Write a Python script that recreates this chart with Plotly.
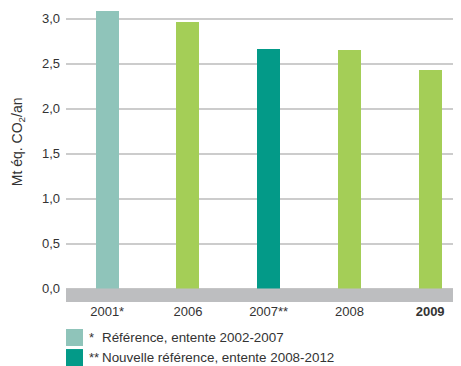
import plotly.graph_objects as go

categories = ["2001*", "2006", "2007**", "2008", "<b>2009</b>"]
values = [3.08, 2.96, 2.66, 2.65, 2.43]
bar_colors = ["#8FC4BA", "#A4CE57", "#039A88", "#A4CE57", "#A4CE57"]
y_ticks = [0, 0.5, 1.0, 1.5, 2.0, 2.5, 3.0]
legend_marks = ["*", "**"]
legend_labels = ["Référence, entente 2002-2007", "Nouvelle référence, entente 2008-2012"]
legend_colors = ["#8FC4BA", "#039A88"]
y_title = "Mt éq. CO<sub>2</sub>/an"

FONT = "Liberation Sans"
TXT = "#333333"

fig = go.Figure()
fig.add_trace(go.Bar(
    x=list(range(len(categories))), y=values,
    marker=dict(color=bar_colors, line=dict(width=0)),
    width=0.285, showlegend=False,
))

shapes = [dict(type="rect", xref="paper", yref="y", x0=0, x1=1, y0=-0.15, y1=0,
               fillcolor="#BDBEC0", line=dict(width=0), layer="above")]
annotations = [dict(text=y_title, xref="paper", yref="paper", x=-0.12, y=0.546,
                    textangle=-90, showarrow=False, xanchor="center", yanchor="middle",
                    font=dict(size=14, color=TXT, family=FONT))]

sq_y = [(-0.0918, -0.1497), (-0.160, -0.2177)]
for i, (mark, lab, col) in enumerate(zip(legend_marks, legend_labels, legend_colors)):
    y0, y1 = sq_y[i]
    shapes.append(dict(type="rect", xref="paper", yref="paper", x0=0, x1=0.0431,
                       y0=y1, y1=y0, fillcolor=col, line=dict(width=0)))
    yc = (y0 + y1) / 2
    annotations.append(dict(text=mark, xref="paper", yref="paper", x=0.0533, y=yc,
                            showarrow=False, xanchor="left", yanchor="middle",
                            font=dict(size=13, color=TXT, family=FONT)))
    annotations.append(dict(text=lab, xref="paper", yref="paper", x=0.0863, y=yc,
                            showarrow=False, xanchor="left", yanchor="middle",
                            font=dict(size=13.4, color=TXT, family=FONT)))

fig.update_layout(
    width=453, height=358,
    margin=dict(l=58, r=1, t=0, b=64),
    paper_bgcolor="white", plot_bgcolor="white",
    separators=", ",
    font=dict(family=FONT, size=13, color=TXT),
    bargap=0,
    shapes=shapes, annotations=annotations,
    xaxis=dict(range=[-0.51, 4.37], tickmode="array",
               tickvals=list(range(len(categories))), ticktext=categories,
               showgrid=False, zeroline=False, showline=False, ticks="",
               tickfont=dict(size=13, color=TXT, family=FONT)),
    yaxis=dict(range=[-0.15, 3.117], tickmode="array", tickvals=y_ticks,
               tickformat=".1f", showgrid=True, gridcolor="#CCCCCC", gridwidth=1.5,
               zeroline=False, showline=False, ticks="",
               tickfont=dict(size=13, color=TXT, family=FONT), ticklabelstandoff=5),
)

fig.write_html("out.html")
